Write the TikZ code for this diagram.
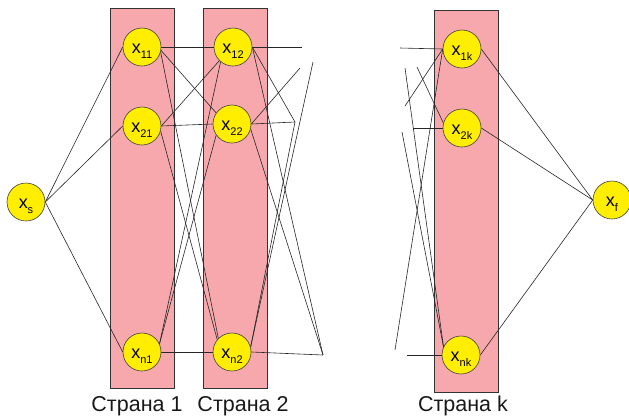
\documentclass[tikz,border=0pt]{standalone}
\usepackage{fontspec}
\setmainfont{Liberation Sans}
\definecolor{stagepink}{RGB}{246,168,172}
\definecolor{nodeyellow}{RGB}{255,238,0}
\newcommand\vlab[1]{{\fontsize{18}{18}\selectfont x}\raisebox{-5pt}{\fontsize{11}{11}\selectfont #1}}
\pgfdeclarelayer{columns}
\pgfdeclarelayer{edges}
\pgfsetlayers{columns,edges,main}
\begin{document}
\begin{tikzpicture}[x=1pt,y=-1pt,
  stagebox/.style={fill=stagepink,draw=black!80,line width=0.7pt},
  vertex/.style={circle,fill=nodeyellow,draw=black!75,line width=0.6pt,
    minimum size=38pt,inner sep=0pt,text height=13.4pt,text depth=0pt},
  link/.style={draw=black!85,line width=0.6pt},
  caption/.style={font=\fontsize{21.5}{22}\selectfont,anchor=base,text=black!90}]
\useasboundingbox (0,0) rectangle (629,416);

% stage columns
\begin{pgfonlayer}{columns}
\path[stagebox] (110,8) rectangle (174,388);
\path[stagebox] (203,8) rectangle (267,388);
\path[stagebox] (434,10) rectangle (498,392);
\end{pgfonlayer}

% vertices
\node[vertex] (xs)  at (26,202)  {\vlab{s}};
\node[vertex] (x11) at (142,47)  {\vlab{11}};
\node[vertex] (x21) at (142,126) {\vlab{21}};
\node[vertex] (xn1) at (142,352) {\vlab{n1}};
\node[vertex] (x12) at (233,47)  {\vlab{12}};
\node[vertex] (x22) at (232,124) {\vlab{22}};
\node[vertex] (xn2) at (232,352) {\vlab{n2}};
\node[vertex] (x1k) at (462,49)  {\vlab{1k}};
\node[vertex] (x2k) at (462,128) {\vlab{2k}};
\node[vertex] (xnk) at (461,355) {\vlab{nk}};
\node[vertex] (xf)  at (612,200) {\vlab{f}};

% loose ends of edges towards the next / from the previous stage
\coordinate (a1) at (302,47);
\coordinate (a2) at (300,68);
\coordinate (a3) at (313,62);
\coordinate (b)  at (295,122);
\coordinate (c)  at (323,355);
\coordinate (p1) at (400,48);
\coordinate (p2) at (405,106);
\coordinate (p3) at (395,350);
\coordinate (q1) at (413,128);
\coordinate (q2) at (417,67);
\coordinate (r1) at (407,355);
\coordinate (r2) at (405,68);
\coordinate (r3) at (402,132);

\begin{pgfonlayer}{edges}
% source to first stage
\foreach \t in {x11,x21,xn1} \draw[link] (xs.east) -- (\t.west);
% first stage to second stage
\draw[link] (x11.east) -- (x12.west);
\draw[link] (x11.350) -- (x22.145);
\draw[link] (x11.345) -- (xn2.135);
\draw[link] (x21.east) -- (x12.225);
\draw[link] (x21.east) -- (x22.west);
\draw[link] (x21.345) -- (xn2.140);
\draw[link] (xn1.25) -- (x12.230);
\draw[link] (xn1.25) -- (x22.215);
\draw[link] (xn1.east) -- (xn2.west);
% second stage towards the next one
\draw[link] (x12.east) -- (a1);
\draw[link] (x12.east) -- (b);
\draw[link] (x12.east) -- (c);
\draw[link] (x22.east) -- (a2);
\draw[link] (x22.east) -- (b);
\draw[link] (x22.345) -- (c);
\draw[link] (xn2.15) -- (a3);
\draw[link] (xn2.15) -- (b);
\draw[link] (xn2.east) -- (c);
% into the last stage
\foreach \s in {p1,p2,p3} \draw[link] (\s) -- (x1k.west);
\draw[link] (q1) -- (x2k.west);
\draw[link] (q2) -- (x2k.165);
\draw[link] (r1) -- (xnk.west);
\foreach \s in {r2,r3} \draw[link] (\s) -- (xnk.155);
% last stage to sink
\foreach \s in {x1k,x2k,xnk} \draw[link] (\s.east) -- (xf.west);
\end{pgfonlayer}

% stage captions
\node[caption] (c1) at (137,411) {Страна 1};
\node[caption] (c2) at (243,411) {Страна 2};
\node[caption] (ck) at (463,411) {Страна k};
\end{tikzpicture}
\end{document}
